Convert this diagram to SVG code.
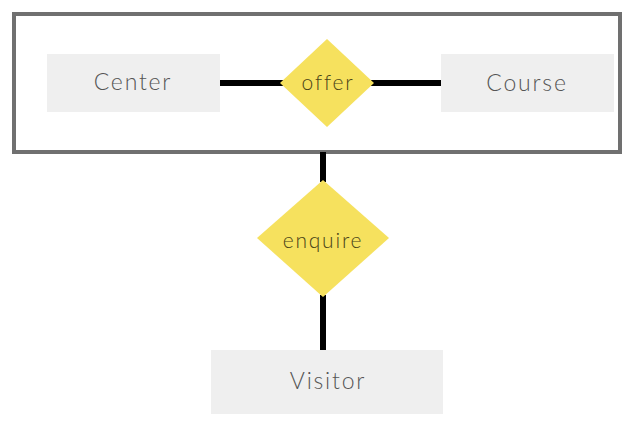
<svg xmlns="http://www.w3.org/2000/svg" width="623" height="421" viewBox="0 0 623 421">
<style>
.ent{fill:#efefef}
.rel{fill:#f6e15e}
.et{font-family:Lato,"Open Sans",sans-serif;font-weight:300;font-size:23px;fill:#555;text-anchor:middle;dominant-baseline:central;letter-spacing:1.8px}
.rt{font-family:Lato,"Open Sans",sans-serif;font-weight:300;font-size:21px;fill:#4a4418;text-anchor:middle;dominant-baseline:central;letter-spacing:1.8px}
.ln{stroke:#000;stroke-width:6;fill:none}
</style>
<rect width="623" height="421" fill="#fff"/>
<g id="aggregate">
<rect x="14" y="14" width="606" height="138" fill="none" stroke="#707070" stroke-width="4"/>
</g>
<g id="connectors">
<line class="ln" x1="220" y1="83" x2="284" y2="83"/>
<line class="ln" x1="371" y1="83" x2="441" y2="83"/>
<line class="ln" x1="323" y1="152" x2="323" y2="182"/>
<line class="ln" x1="323" y1="295" x2="323" y2="350"/>
</g>
<g id="center">
<rect class="ent" x="47" y="54" width="173" height="58"/>
<text class="et" x="133" y="81">Center</text>
</g>
<g id="offer">
<polygon class="rel" points="327,39 374,83 327,127 280,83"/>
<text class="rt" x="328" y="81">offer</text>
</g>
<g id="course">
<rect class="ent" x="441" y="54" width="173" height="58"/>
<text class="et" x="527" y="82">Course</text>
</g>
<g id="enquire">
<polygon class="rel" points="323,180 389,238 323,297 257,238"/>
<text class="rt" x="323" y="239">enquire</text>
</g>
<g id="visitor">
<rect class="ent" x="211" y="350" width="232" height="64"/>
<text class="et" x="328" y="380">Visitor</text>
</g>
</svg>
